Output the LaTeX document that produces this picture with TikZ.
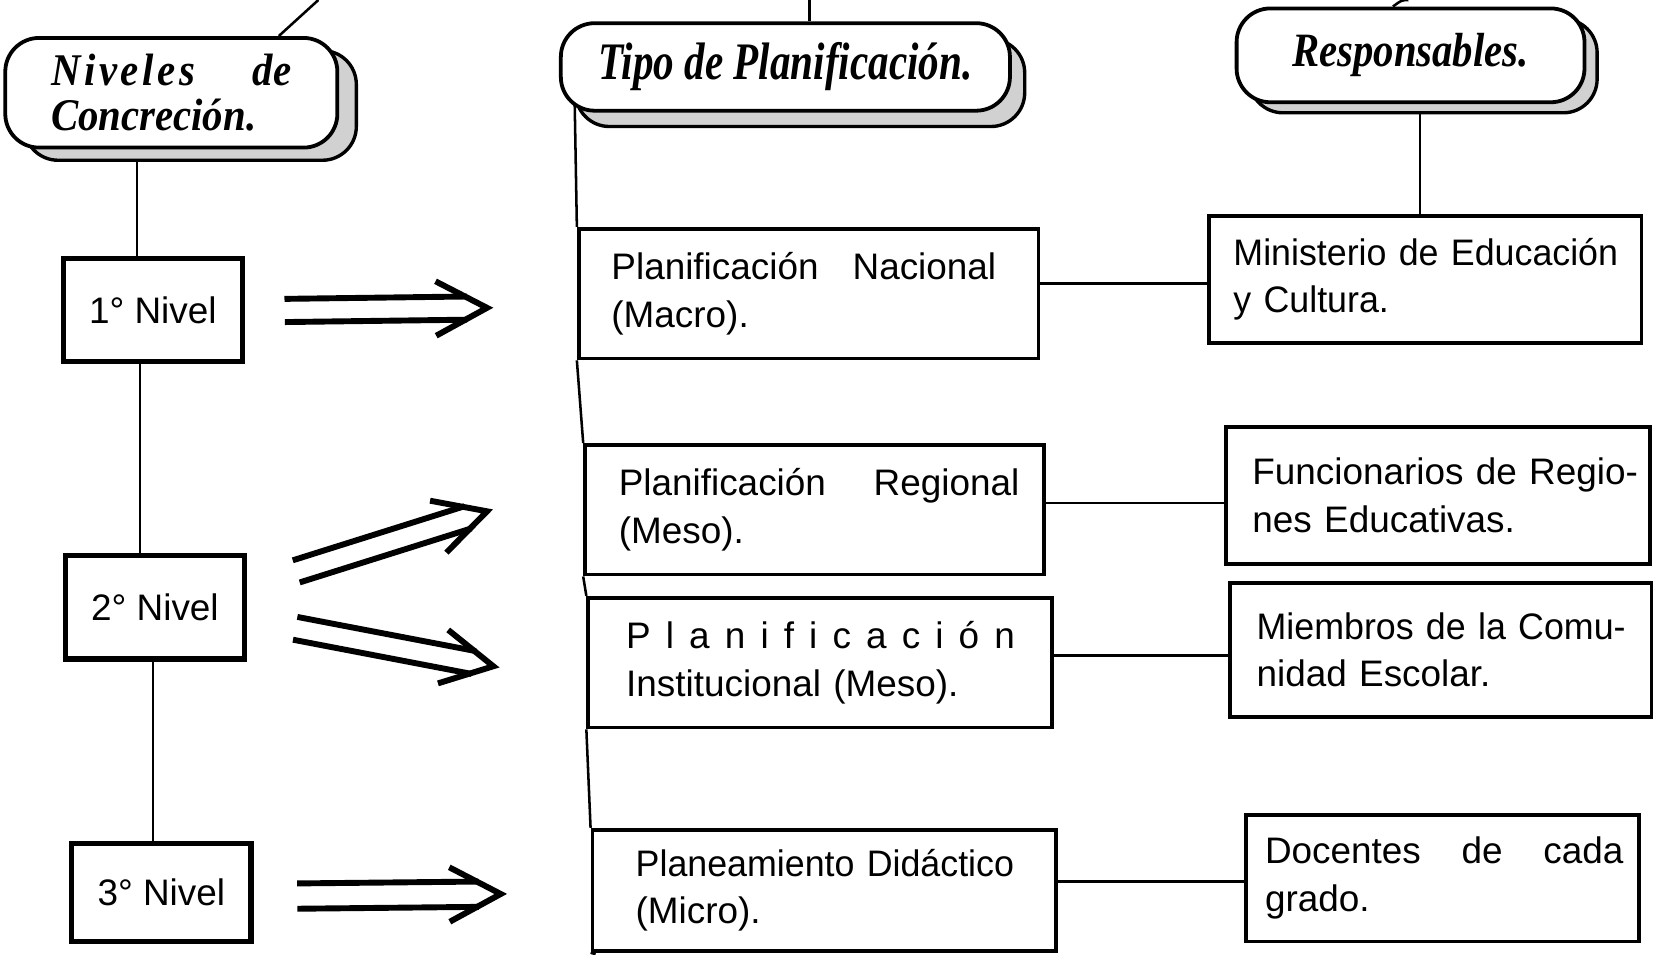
\documentclass[tikz,border=0pt]{standalone}
\usepackage{fontspec}
\setmainfont{Liberation Sans}
\newfontfamily\hdA[FakeStretch=0.9]{Liberation Serif}
\newfontfamily\hdB[FakeStretch=0.78]{Liberation Serif}
\newfontfamily\hdC[FakeStretch=0.85]{Liberation Serif}
\usetikzlibrary{calc}
\pgfdeclarelayer{bg}
\pgfsetlayers{bg,main}
% #1 tail, #2 tip, #3 half gap, #4 shaft stop before tip, #5 arm length
\newcommand{\dblarrow}[5]{%
  \draw[dbl] ($(#2)!#5!28:(#1)$) -- (#2) -- ($(#2)!#5!-28:(#1)$);
  \draw[dbl] ($(#1)!#3!90:(#2)$) -- ($($(#2)!#4!(#1)$)!#3!-90:(#1)$);
  \draw[dbl] ($(#1)!#3!-90:(#2)$) -- ($($(#2)!#4!(#1)$)!#3!90:(#1)$);
}
\newcommand{\narrowtxt}{\addfontfeatures{FakeStretch=0.97}}
\begin{document}
\begin{tikzpicture}[x=0.5pt,y=-0.5pt,
  hdbox/.style={draw, line width=1.8pt, rounded corners=16pt, fill=white, inner sep=0pt, align=center},
  hdshadow/.style={draw, line width=1.6pt, rounded corners=16pt, fill=black!18, inner sep=0pt},
  lvbox/.style={draw, line width=2.6pt, fill=white, inner sep=0pt, font=\fontsize{17.5}{22.5}\selectfont},
  txbox/.style={draw, line width=1.8pt, fill=white, align=left, inner ysep=0pt, font=\fontsize{17.5}{22.5}\selectfont},
  conn/.style={line width=1.2pt},
  dbl/.style={line width=2.8pt, line join=miter},
]
\useasboundingbox (0,0) rectangle (1568,905);

% header shadows and headers
\node[hdshadow, minimum width=157.5pt, minimum height=52pt] (h1s) at (180.5,100) {};
\node[hdbox, minimum width=157.5pt, minimum height=52pt, text width=114pt, align=left,
      font=\hdA\bfseries\itshape\fontsize{21.5}{21.5}\selectfont] (h1) at (162.5,88)
      {\makebox[114pt][l]{{\addfontfeatures{LetterSpace=8}Niveles}\hfill de}\\Concreción.};
\node[hdshadow, minimum width=213pt, minimum height=41.5pt] (h2s) at (759,78.5) {};
\node[hdbox, minimum width=213pt, minimum height=41.5pt,
      font=\hdB\bfseries\itshape\fontsize{25}{26}\selectfont] (h2) at (745,63.5)
      {Tipo de Planificación.};
\node[hdshadow, minimum width=165pt, minimum height=44.5pt] (h3s) at (1350,62.5) {};
\node[hdbox, minimum width=165pt, minimum height=44.5pt,
      font=\hdC\bfseries\itshape\fontsize{22.7}{24}\selectfont] (h3) at (1338,52.5)
      {Responsables.};

% level boxes
\node[lvbox, minimum width=85pt, minimum height=49pt] (n1) at (145,294) {1° Nivel};
\node[lvbox, minimum width=85pt, minimum height=49pt] (n2) at (147,576) {2° Nivel};
\node[lvbox, minimum width=85pt, minimum height=46.5pt] (n3) at (153,846.5) {3° Nivel};

% planning boxes
\node[txbox, minimum width=218pt, minimum height=61.5pt, inner xsep=15.5pt, text width=187pt] (p1) at (767,278.5)
  {\makebox[182.5pt][l]{Planificación\hfill Nacional}\\\mbox{(Macro).}};
\node[txbox, minimum width=217.5pt, minimum height=61.5pt, inner xsep=16pt, text width=185.5pt] (p2) at (772.5,483.5)
  {\makebox[190pt][l]{Planificación\hfill Regional}\\\mbox{(Meso).}};
\node[txbox, minimum width=220pt, minimum height=61.5pt, inner xsep=18pt, text width=184pt] (p3) at (778,628.5)
  {\mbox{\addfontfeatures{LetterSpace=41}Planificación}\\\mbox{Institucional (Meso).}};
\node[txbox, minimum width=220pt, minimum height=57.5pt, inner xsep=20.5pt, text width=179pt] (p4) at (782,844.5)
  {\mbox{\narrowtxt Planeamiento Didáctico}\\\mbox{(Micro).}};

% responsible boxes
\node[txbox, minimum width=205pt, minimum height=60pt, inner xsep=11.5pt, text width=182pt] (r1) at (1352,265)
  {\mbox{\narrowtxt Ministerio de Educación}\\\mbox{\narrowtxt y Cultura.}};
\node[txbox, minimum width=201pt, minimum height=65pt, inner xsep=12.5pt, text width=176pt] (r2) at (1364,470)
  {\mbox{Funcionarios de Regio-}\\\mbox{nes Educativas.}};
\node[txbox, minimum width=200pt, minimum height=63.5pt, inner xsep=12.5pt, text width=175pt] (r3) at (1367,616.5)
  {\mbox{\narrowtxt Miembros de la Comu-}\\\mbox{nidad Escolar.}};
\node[txbox, minimum width=186.5pt, minimum height=60pt, inner xsep=9pt, text width=168.5pt] (r4) at (1368.5,833)
  {\makebox[170pt][l]{Docentes\hfill de\hfill cada}\\\mbox{grado.}};

% helper coordinates
\coordinate (s1) at (302,0);
\coordinate (s2) at (768,0);
\coordinate (s3) at (1336,0);
\coordinate (v1) at (130,0);
\coordinate (v2) at (133,0);
\coordinate (v3) at (145,0);
\coordinate (v4) at (1347,0);
\coordinate (sp0) at (545,90);
\coordinate (sp5) at (565,905);
\coordinate (c1) at (0,269);
\coordinate (c2) at (0,477);
\coordinate (c3) at (0,622);
\coordinate (c4) at (0,836);

\begin{pgfonlayer}{bg}
  \fill[white] (0,0) rectangle (1568,905);
  \draw[conn] ($(h1.north west)!0.82!(h1.north east)$) -- (s1);
  \draw[conn] (h2.north -| s2) -- (s2);
  \draw[conn] ($(h3.north west)!0.45!(h3.north east)$) .. controls ($(h3.north west)!0.45!(h3.north east)+(8,-6)$) .. (s3);
  \draw[conn] (h1s.south -| v1) -- (n1.north -| v1);
  \draw[conn] (n1.south -| v2) -- (n2.north -| v2);
  \draw[conn] (n2.south -| v3) -- (n3.north -| v3);
  \draw[conn] (sp0) -- (p1.north west);
  \draw[conn] (p1.south west) -- (p2.north west);
  \draw[conn] (p2.south west) -- (p3.north west);
  \draw[conn] (p3.south west) -- (p4.north west);
  \draw[conn] (p4.south west) -- (sp5);
  \draw[conn] (h3s.south -| v4) -- (r1.north -| v4);
  \draw[conn] (p1.east |- c1) -- (r1.west |- c1);
  \draw[conn] (p2.east |- c2) -- (r2.west |- c2);
  \draw[conn] (p3.east |- c3) -- (r3.west |- c3);
  \draw[conn] (p4.east |- c4) -- (r4.west |- c4);
\end{pgfonlayer}

% double arrows
\coordinate (a1t) at (270,294.5); \coordinate (a1h) at (462,292);
\coordinate (a2t) at (281,542);   \coordinate (a2h) at (462,485);
\coordinate (a3t) at (280,596);   \coordinate (a3h) at (468,632);
\coordinate (a4t) at (282,850);   \coordinate (a4h) at (475,848);
\dblarrow{a1t}{a1h}{5.5pt}{9.5pt}{27.5pt}
\dblarrow{a2t}{a2h}{5.5pt}{9.5pt}{27.5pt}
\dblarrow{a3t}{a3h}{5.5pt}{9.5pt}{27.5pt}
\dblarrow{a4t}{a4h}{6pt}{10.5pt}{27.5pt}
\end{tikzpicture}
\end{document}
